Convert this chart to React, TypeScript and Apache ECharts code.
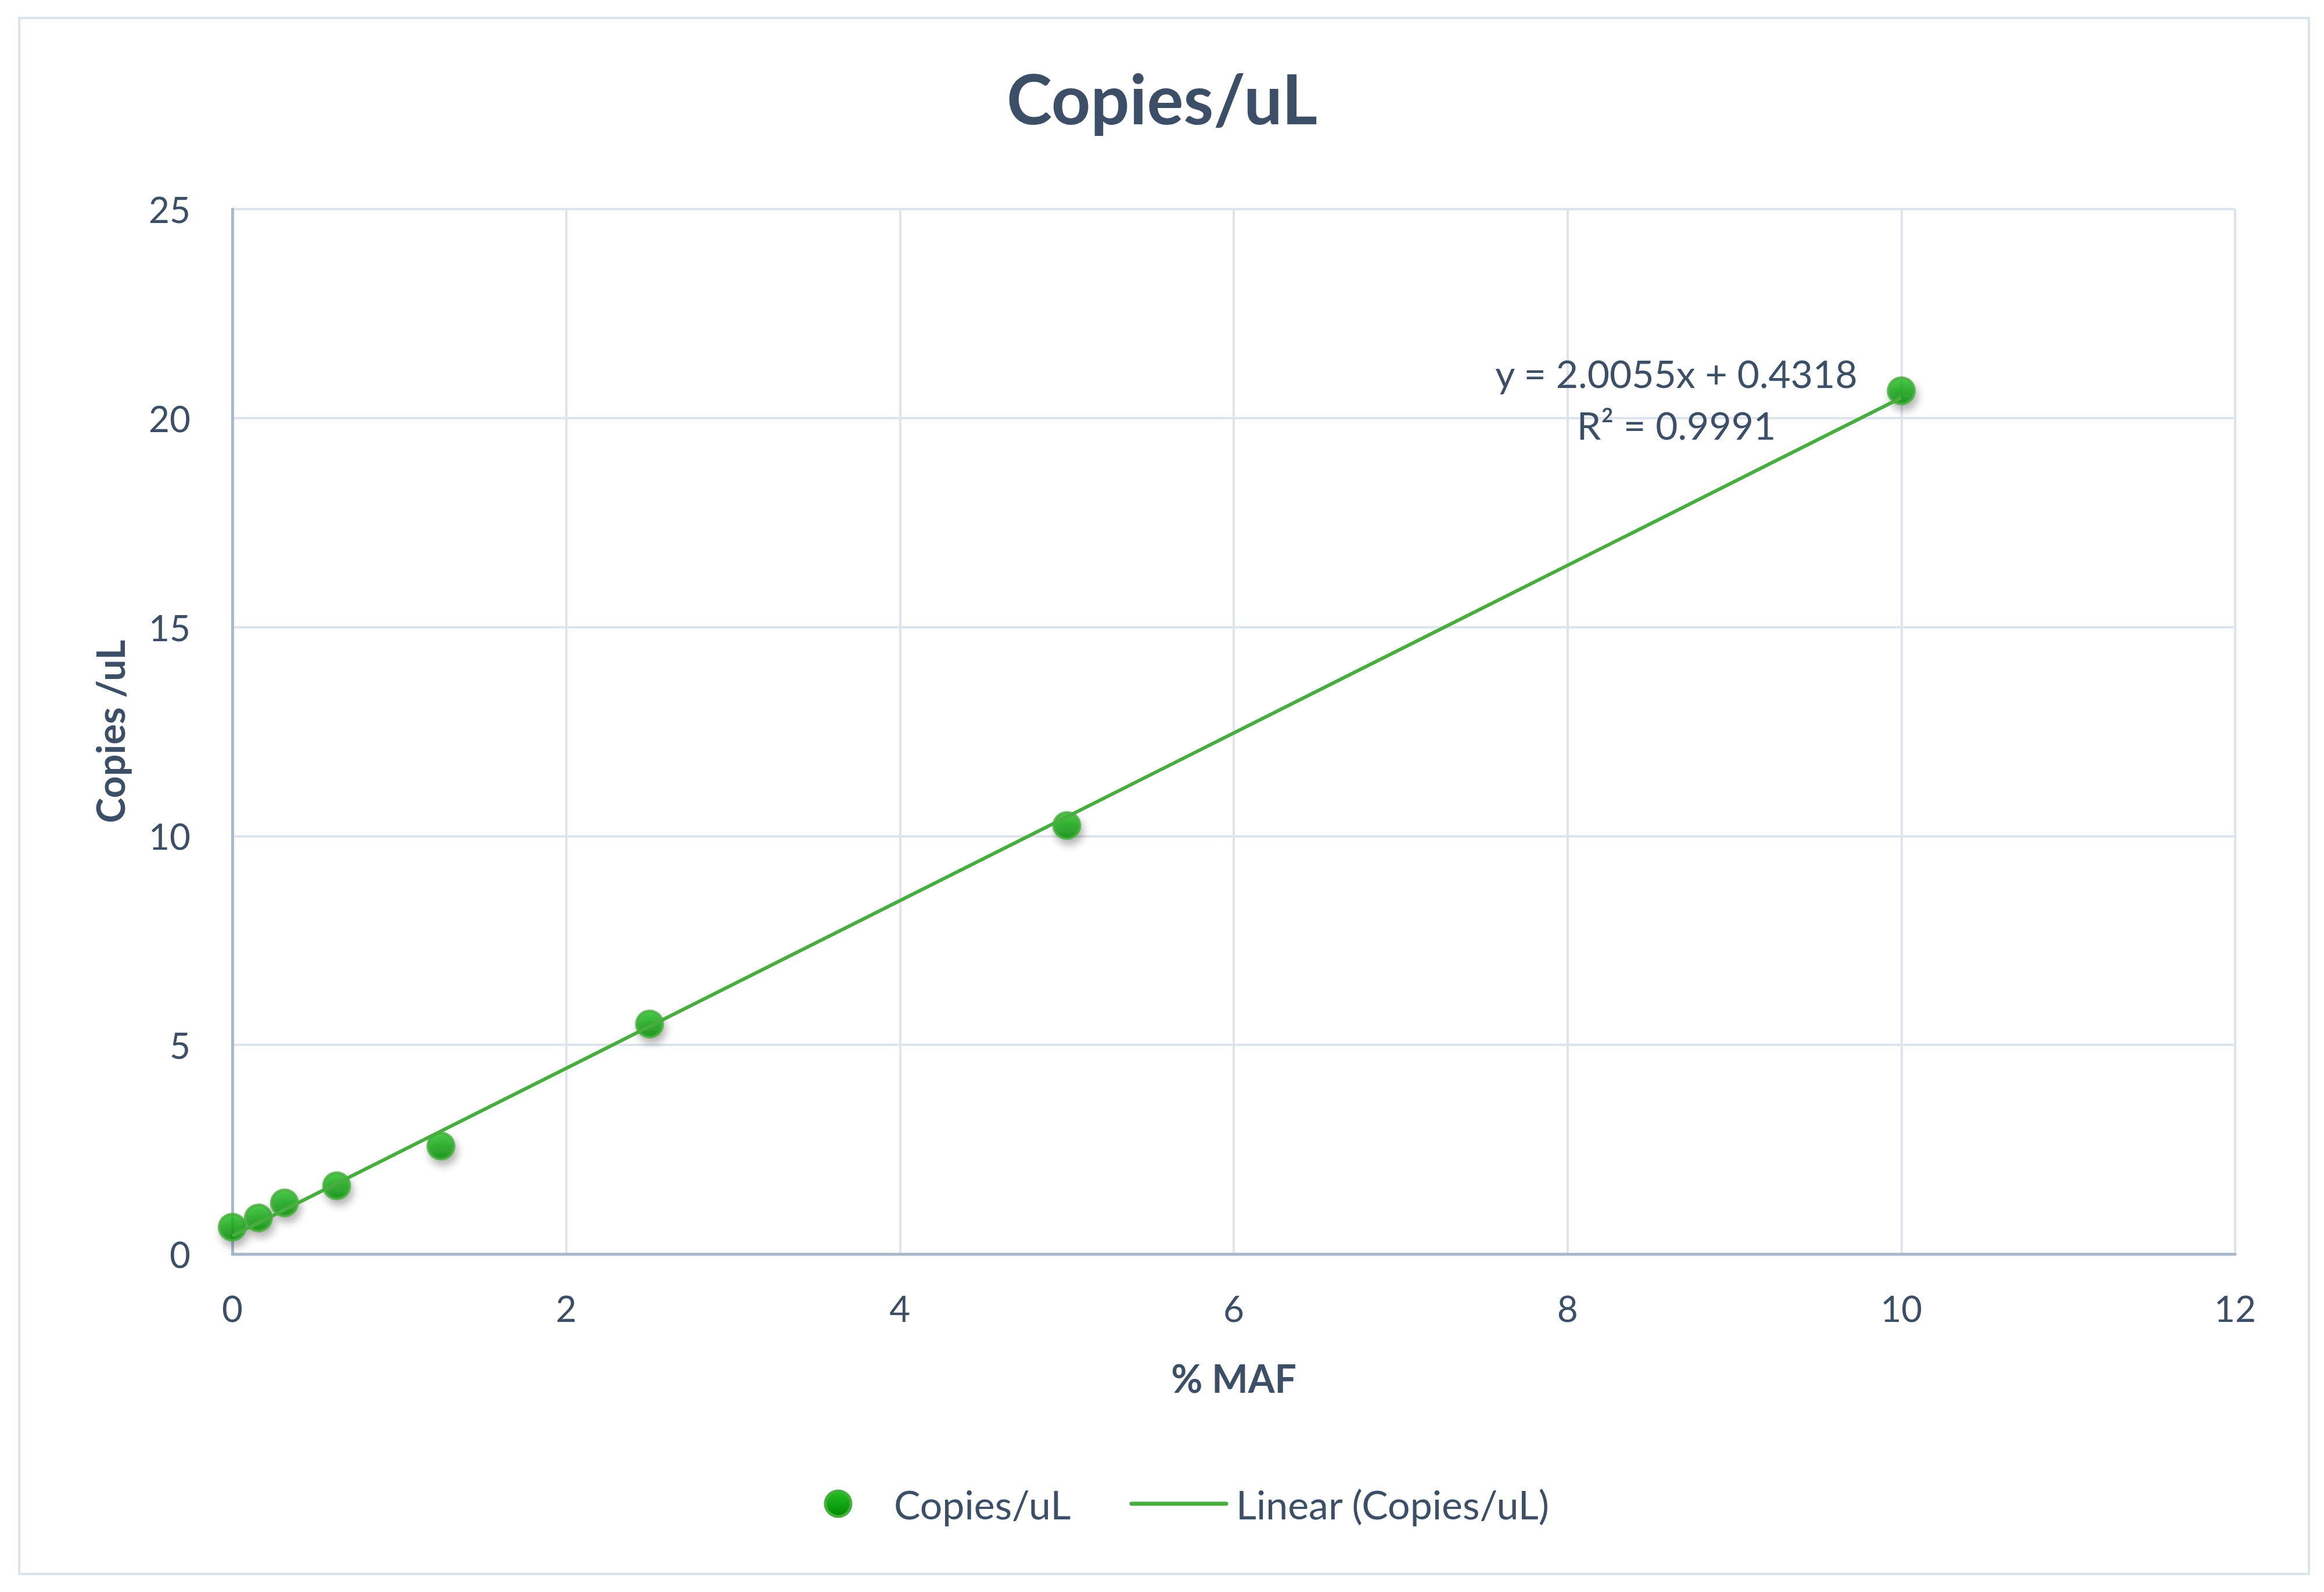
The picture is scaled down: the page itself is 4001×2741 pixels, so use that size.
import React, { useEffect, useRef } from "react";
import * as echarts from "echarts";

// ---- data ----
const mafPercent = [0, 0.15625, 0.3125, 0.625, 1.25, 2.5, 5, 10];
const copiesPerUL = [0.64, 0.86, 1.22, 1.63, 2.58, 5.5, 10.25, 20.65];
const xTickValues = [0, 2, 4, 6, 8, 10, 12];
const yTickValues = [0, 5, 10, 15, 20, 25];
const trendSlope = 2.0055;
const trendIntercept = 0.4318;
const rSquared = 0.9991;
const trendXRange = [0, 10];

const FONT = "Lato, 'Noto Sans', sans-serif";
const TEXT = "#3c4f66";
const GREEN = "#47ad3e";

export default function App() {
  const ref = useRef<HTMLDivElement>(null);

  useEffect(() => {
    document.body.style.margin = "0";
    if (!ref.current) return;
    const chart = echarts.init(ref.current, undefined, { renderer: "svg" });

    const markerFill = new echarts.graphic.LinearGradient(0, 0, 0, 1, [
      { offset: 0, color: "#22c022" },
      { offset: 1, color: "#008a00" },
    ]);

    const scatterData = mafPercent.map((x, i) => [x, copiesPerUL[i]]);
    const trendData = trendXRange.map((x) => [x, trendSlope * x + trendIntercept]);

    const option: any = {
      animation: false,
      backgroundColor: "#ffffff",
      title: {
        text: "Copies/uL",
        left: "center",
        top: 104,
        textStyle: { fontFamily: FONT, fontSize: 118, fontWeight: "bold", color: TEXT },
      },
      grid: { left: 400, right: 153, top: 360, bottom: 582, containLabel: false },
      xAxis: {
        type: "value",
        min: xTickValues[0],
        max: xTickValues[xTickValues.length - 1],
        interval: xTickValues[1] - xTickValues[0],
        axisLine: { show: true, onZero: false, lineStyle: { color: "#a9b8ca", width: 5 } },
        axisTick: { show: false },
        splitLine: { show: true, lineStyle: { color: "#dde4eb", width: 4 } },
        axisLabel: { fontFamily: FONT, fontSize: 62, color: TEXT, margin: 62 },
        name: "% MAF",
        nameLocation: "middle",
        nameGap: 180,
        nameTextStyle: { fontFamily: FONT, fontSize: 66, fontWeight: "bold", color: TEXT },
      },
      yAxis: {
        type: "value",
        min: yTickValues[0],
        max: yTickValues[yTickValues.length - 1],
        interval: yTickValues[1] - yTickValues[0],
        axisLine: { show: true, onZero: false, lineStyle: { color: "#a9b8ca", width: 5 } },
        axisTick: { show: false },
        splitLine: { show: true, lineStyle: { color: "#dde4eb", width: 4 } },
        axisLabel: { fontFamily: FONT, fontSize: 62, color: TEXT, margin: 72 },
        name: "Copies /uL",
        nameLocation: "middle",
        nameGap: 178,
        nameRotate: 90,
        nameTextStyle: { fontFamily: FONT, fontSize: 66, fontWeight: "bold", color: TEXT },
      },
      series: [
        {
          name: "Copies/uL",
          type: "scatter",
          data: scatterData,
          symbol: "circle",
          symbolSize: 45,
          z: 2,
          itemStyle: {
            color: markerFill,
            borderColor: GREEN,
            borderWidth: 5,
            shadowColor: "rgba(0,0,0,0.35)",
            shadowBlur: 14,
            shadowOffsetX: 4,
            shadowOffsetY: 9,
          },
        },
        {
          name: "Linear (Copies/uL)",
          type: "line",
          data: trendData,
          symbol: "none",
          z: 3,
          lineStyle: { color: GREEN, width: 6 },
        },
      ],
      graphic: [
        {
          type: "rect",
          silent: true,
          z: -10,
          shape: { x: 33, y: 31, width: 3942, height: 2679 },
          style: { fill: "none", stroke: "#dde3ea", lineWidth: 4 },
        },
        {
          type: "text",
          z: 100,
          x: 2886,
          y: 642,
          style: {
            text: `y = ${trendSlope.toFixed(4)}x + ${trendIntercept.toFixed(4)}`,
            textAlign: "center",
            textVerticalAlign: "middle",
            fontFamily: FONT,
            fontSize: 66,
            fill: TEXT,
          },
        },
        {
          type: "text",
          z: 100,
          x: 2886,
          y: 731,
          style: {
            text: `R² = ${rSquared.toFixed(4)}`,
            textAlign: "center",
            textVerticalAlign: "middle",
            fontFamily: FONT,
            fontSize: 66,
            fill: TEXT,
          },
        },
        {
          type: "circle",
          z: 100,
          shape: { cx: 1443, cy: 2589, r: 22 },
          style: { fill: markerFill, stroke: GREEN, lineWidth: 5 },
        },
        {
          type: "text",
          z: 100,
          x: 1539,
          y: 2589,
          style: {
            text: "Copies/uL",
            textAlign: "left",
            textVerticalAlign: "middle",
            fontFamily: FONT,
            fontSize: 68,
            fill: TEXT,
          },
        },
        {
          type: "line",
          z: 100,
          shape: { x1: 1948, y1: 2589, x2: 2111, y2: 2589 },
          style: { stroke: GREEN, lineWidth: 7, lineCap: "round" },
        },
        {
          type: "text",
          z: 100,
          x: 2128,
          y: 2589,
          style: {
            text: "Linear (Copies/uL)",
            textAlign: "left",
            textVerticalAlign: "middle",
            fontFamily: FONT,
            fontSize: 68,
            fill: TEXT,
          },
        },
      ],
    };

    chart.setOption(option);
    return () => chart.dispose();
  }, []);

  return <div ref={ref} style={{ width: 4001, height: 2741 }} />;
}
